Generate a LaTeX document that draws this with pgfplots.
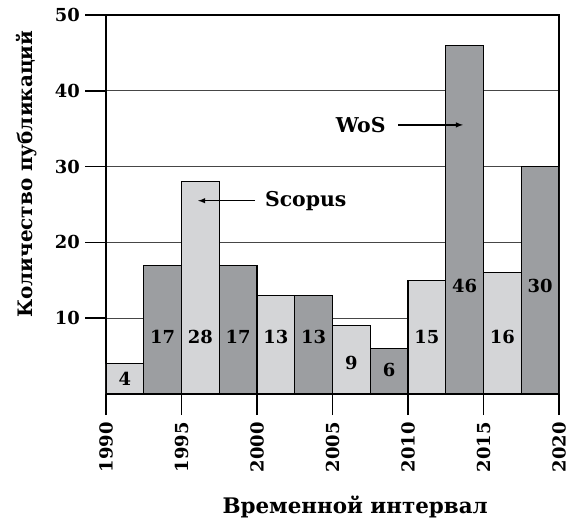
\documentclass[border=0pt]{standalone}
\usepackage{fontspec}
\setmainfont{DejaVu Serif}
\usepackage{pgfplots}
\pgfplotsset{compat=1.18}
\definecolor{lightbar}{RGB}{212,213,215}
\definecolor{darkbar}{RGB}{156,158,161}
\definecolor{gridc}{RGB}{70,70,70}
\pgfplotstableread{
x y lab
1991.25 2.0 4
1993.75 7.5 17
1996.25 7.5 28
1998.75 7.5 17
2001.25 7.5 13
2003.75 7.5 13
2006.25 4.1 9
2008.75 3.2 6
2011.25 7.5 15
2013.75 14.2 46
2016.25 7.5 16
2018.75 14.2 30
}\labtable
\begin{document}
\begin{tikzpicture}
\begin{axis}[
  at={(0,0)}, anchor=south west,
  scale only axis, width=453bp, height=379bp,
  xmin=1990, xmax=2020, ymin=0, ymax=50,
  xtick={1990,1995,...,2020}, ytick={10,20,30,40,50},
  tick pos=left, tick align=outside, major tick length=21bp,
  /pgf/number format/assume math mode=true,
  /pgf/number format/1000 sep={},
  xticklabel style={rotate=90, anchor=east, inner sep=7bp, font=\bfseries\fontsize{18}{21}\selectfont},
  yticklabel style={inner sep=5bp, font=\bfseries\fontsize{18}{21}\selectfont},
  ymajorgrids, major grid style={gridc, line width=1bp},
  axis line style={line width=1.5bp, black},
  every tick/.style={black, line width=1.5bp},
  xlabel={Временной интервал},
  ylabel={Количество публикаций},
  xlabel style={at={(axis description cs:0.55,-0.298)}, anchor=center, font=\bfseries\fontsize{21.5}{24}\selectfont},
  ylabel style={at={(axis description cs:-0.175,0.58)}, anchor=center, font=\bfseries\fontsize{20}{23}\selectfont},
]
\addplot[ybar, bar width=2.5, bar shift=0pt, fill=lightbar, draw=black, line width=1.2bp]
  coordinates {(1991.25,4) (1996.25,28) (2001.25,13) (2006.25,9) (2011.25,15) (2016.25,16)};
\addplot[ybar, bar width=2.5, bar shift=0pt, fill=darkbar, draw=black, line width=1.2bp]
  coordinates {(1993.75,17) (1998.75,17) (2003.75,13) (2008.75,6) (2013.75,46) (2018.75,30)};
\addplot[draw=none, mark=none, nodes near coords, point meta=explicit symbolic,
  every node near coord/.append style={anchor=center, font=\bfseries\fontsize{18}{21}\selectfont, text=black}]
  table[x=x, y=y, meta=lab] {\labtable};
\draw[-latex, line width=1.4bp] (axis cs:1999.87,25.5) -- (axis cs:1996.1,25.5);
\node[anchor=west, font=\bfseries\fontsize{20.5}{23}\selectfont] at (axis cs:2000.3,25.5) {Scopus};
\draw[-latex, line width=1.4bp] (axis cs:2009.34,35.5) -- (axis cs:2013.64,35.5);
\node[anchor=east, font=\bfseries\fontsize{20.5}{23}\selectfont] at (axis cs:2008.75,35.5) {WoS};
\end{axis}
\pgfresetboundingbox
\path[use as bounding box] (-106bp,-127bp) rectangle (478bp,394bp);
\end{tikzpicture}
\end{document}
